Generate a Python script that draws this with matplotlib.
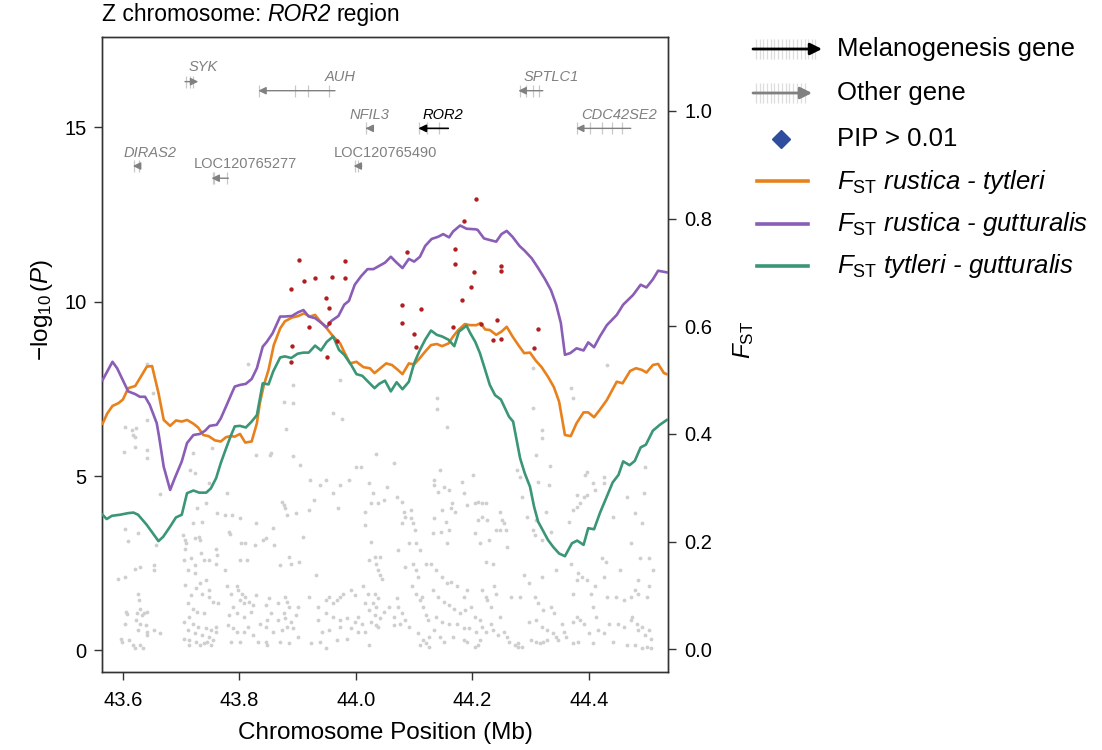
import matplotlib
matplotlib.use('Agg')
import matplotlib.pyplot as plt
from matplotlib.text import Annotation

plt.rcParams['font.family'] = ['Liberation Sans', 'DejaVu Sans']
plt.rcParams['mathtext.fontset'] = 'custom'
plt.rcParams['mathtext.rm'] = 'Liberation Sans'
plt.rcParams['mathtext.it'] = 'Liberation Sans:italic'
plt.rcParams['mathtext.bf'] = 'Liberation Sans:bold'

# ---------------- data ----------------
# F_ST sliding-window curves (position in Mb, F_ST)
purple_x = [43.565, 43.582, 43.590, 43.601, 43.609, 43.621, 43.629, 43.638, 43.646, 43.658, 43.662, 43.670,
            43.681, 43.689, 43.701, 43.710, 43.721, 43.732, 43.741, 43.749, 43.761, 43.768, 43.777, 43.787,
            43.792, 43.801, 43.811, 43.821, 43.830, 43.840, 43.847, 43.857, 43.870, 43.878, 43.890, 43.901,
            43.910, 43.919, 43.930, 43.941, 43.950, 43.958, 43.970, 43.980, 43.988, 43.998, 44.009, 44.020,
            44.030, 44.040, 44.050, 44.060, 44.070, 44.080, 44.091, 44.100, 44.110, 44.119, 44.130, 44.141,
            44.150, 44.160, 44.167, 44.179, 44.190, 44.205, 44.209, 44.220, 44.230, 44.241, 44.250, 44.259,
            44.269, 44.281, 44.290, 44.302, 44.313, 44.325, 44.335, 44.344, 44.352, 44.359, 44.368, 44.379,
            44.391, 44.399, 44.409, 44.419, 44.431, 44.448, 44.459, 44.476, 44.489, 44.499, 44.510, 44.519,
            44.534]
purple_y = [0.500, 0.534, 0.522, 0.497, 0.479, 0.474, 0.469, 0.469, 0.454, 0.420, 0.395, 0.339,
            0.296, 0.318, 0.349, 0.383, 0.398, 0.400, 0.406, 0.415, 0.417, 0.429, 0.451, 0.476,
            0.488, 0.491, 0.493, 0.502, 0.522, 0.562, 0.571, 0.587, 0.618, 0.618, 0.619, 0.626,
            0.630, 0.618, 0.615, 0.606, 0.598, 0.610, 0.619, 0.640, 0.647, 0.677, 0.693, 0.706,
            0.706, 0.712, 0.718, 0.729, 0.718, 0.708, 0.725, 0.720, 0.729, 0.749, 0.762, 0.766,
            0.771, 0.765, 0.776, 0.787, 0.781, 0.780, 0.779, 0.763, 0.760, 0.757, 0.771, 0.777,
            0.766, 0.749, 0.740, 0.726, 0.708, 0.687, 0.667, 0.640, 0.606, 0.547, 0.550, 0.559,
            0.555, 0.570, 0.561, 0.581, 0.602, 0.621, 0.640, 0.658, 0.677, 0.672, 0.687, 0.703,
            0.700]

orange_x = [43.565, 43.573, 43.582, 43.592, 43.600, 43.609, 43.621, 43.630, 43.641, 43.650, 43.661, 43.670,
            43.681, 43.691, 43.701, 43.710, 43.721, 43.729, 43.738, 43.747, 43.758, 43.768, 43.777, 43.785,
            43.792, 43.801, 43.810, 43.821, 43.830, 43.835, 43.842, 43.850, 43.859, 43.870, 43.878, 43.890,
            43.901, 43.911, 43.921, 43.930, 43.938, 43.950, 43.961, 43.973, 43.980, 43.990, 44.001, 44.013,
            44.024, 44.032, 44.041, 44.052, 44.062, 44.072, 44.080, 44.091, 44.100, 44.110, 44.119, 44.129,
            44.139, 44.148, 44.159, 44.167, 44.176, 44.187, 44.196, 44.207, 44.214, 44.222, 44.230, 44.241,
            44.250, 44.259, 44.269, 44.279, 44.289, 44.299, 44.309, 44.319, 44.330, 44.340, 44.349, 44.359,
            44.369, 44.379, 44.391, 44.399, 44.409, 44.419, 44.431, 44.448, 44.458, 44.471, 44.481, 44.491,
            44.499, 44.510, 44.519, 44.529, 44.534]
orange_y = [0.419, 0.438, 0.452, 0.457, 0.464, 0.485, 0.489, 0.505, 0.525, 0.526, 0.476, 0.426,
            0.415, 0.425, 0.423, 0.426, 0.419, 0.412, 0.398, 0.396, 0.388, 0.386, 0.394, 0.396,
            0.395, 0.400, 0.384, 0.386, 0.420, 0.457, 0.491, 0.519, 0.565, 0.596, 0.609, 0.616,
            0.619, 0.624, 0.618, 0.621, 0.610, 0.596, 0.581, 0.568, 0.552, 0.531, 0.534, 0.524,
            0.522, 0.513, 0.521, 0.531, 0.528, 0.519, 0.511, 0.531, 0.529, 0.541, 0.553, 0.565,
            0.567, 0.563, 0.568, 0.581, 0.593, 0.604, 0.602, 0.602, 0.606, 0.594, 0.593, 0.584,
            0.590, 0.599, 0.581, 0.565, 0.550, 0.551, 0.536, 0.524, 0.506, 0.487, 0.460, 0.398,
            0.396, 0.420, 0.440, 0.440, 0.431, 0.445, 0.463, 0.497, 0.494, 0.517, 0.522, 0.519,
            0.514, 0.528, 0.530, 0.513, 0.511]

green_x = [43.565, 43.572, 43.581, 43.595, 43.609, 43.618, 43.626, 43.641, 43.661, 43.669, 43.681, 43.691,
           43.701, 43.710, 43.721, 43.731, 43.743, 43.751, 43.760, 43.768, 43.777, 43.785, 43.792, 43.801,
           43.811, 43.821, 43.830, 43.840, 43.850, 43.858, 43.870, 43.878, 43.889, 43.900, 43.910, 43.919,
           43.930, 43.940, 43.950, 43.961, 43.971, 43.980, 43.992, 44.001, 44.011, 44.021, 44.032, 44.040,
           44.050, 44.060, 44.070, 44.080, 44.091, 44.100, 44.110, 44.119, 44.129, 44.139, 44.148, 44.159,
           44.169, 44.177, 44.190, 44.196, 44.205, 44.213, 44.222, 44.230, 44.239, 44.249, 44.256, 44.263,
           44.270, 44.276, 44.282, 44.290, 44.299, 44.306, 44.313, 44.322, 44.330, 44.339, 44.349, 44.359,
           44.371, 44.380, 44.391, 44.399, 44.409, 44.419, 44.431, 44.441, 44.451, 44.459, 44.470, 44.479,
           44.489, 44.498, 44.510, 44.522, 44.534]
green_y = [0.250, 0.242, 0.248, 0.250, 0.253, 0.254, 0.250, 0.231, 0.201, 0.209, 0.228, 0.245,
           0.250, 0.290, 0.295, 0.291, 0.291, 0.299, 0.318, 0.346, 0.373, 0.396, 0.414, 0.415,
           0.412, 0.423, 0.435, 0.494, 0.492, 0.516, 0.542, 0.544, 0.541, 0.549, 0.551, 0.551,
           0.564, 0.555, 0.571, 0.581, 0.556, 0.547, 0.528, 0.511, 0.508, 0.497, 0.485, 0.493,
           0.499, 0.479, 0.496, 0.483, 0.497, 0.531, 0.556, 0.575, 0.592, 0.584, 0.581, 0.575,
           0.563, 0.590, 0.601, 0.588, 0.571, 0.550, 0.519, 0.491, 0.472, 0.464, 0.448, 0.432,
           0.423, 0.389, 0.355, 0.327, 0.302, 0.265, 0.237, 0.219, 0.203, 0.190, 0.178, 0.173,
           0.197, 0.202, 0.194, 0.225, 0.223, 0.253, 0.284, 0.310, 0.324, 0.349, 0.342, 0.350,
           0.375, 0.380, 0.406, 0.417, 0.426]

# SNPs with highest association (red)
top_pos = [44.206, 44.186, 44.087, 44.170, 44.171, 43.903, 43.982, 43.911, 43.930, 43.959, 43.981, 43.888,
           44.202, 44.250, 44.250, 44.197, 43.948, 43.954, 44.079, 44.111, 44.182, 43.920, 43.954, 44.079,
           44.166, 44.215, 44.243, 44.312, 44.100, 44.103, 43.891, 43.889, 43.950, 43.967, 44.236, 44.250,
           44.306]
top_logp = [12.94, 12.32, 11.43, 11.50, 11.08, 11.19, 11.18, 10.60, 10.68, 10.72, 10.69, 10.36,
            10.86, 11.03, 10.89, 10.43, 10.10, 9.83, 9.91, 9.78, 10.06, 9.28, 9.38, 9.39,
            9.28, 9.36, 9.47, 9.22, 9.06, 8.70, 8.72, 8.27, 8.42, 8.88, 8.90, 8.93,
            8.66]

# background SNPs (grey)
snp_pos = [
 43.642, 43.651, 43.603, 43.616, 43.623, 43.618, 43.620, 43.601, 43.620, 43.642, 43.641, 43.642, 43.664, 43.603,
 43.609, 43.626, 43.657, 43.592, 43.603, 43.620, 43.629, 43.653, 43.654, 43.626, 43.628, 43.629, 43.606, 43.607,
 43.624, 43.632, 43.636, 43.642, 43.623, 43.629, 43.639, 43.626, 43.641, 43.641, 43.604, 43.597, 43.599, 43.611,
 43.617, 43.620, 43.629, 43.634, 43.653, 43.664,
 43.703, 43.706, 43.709, 43.724, 43.730, 43.732, 43.707, 43.720, 43.704, 43.717, 43.734, 43.739, 43.724, 43.748,
 43.760, 43.762, 43.759, 43.711, 43.724, 43.732, 43.742, 43.707, 43.717, 43.726, 43.735, 43.748, 43.748, 43.754,
 43.764, 43.711, 43.720, 43.728, 43.739, 43.714, 43.704, 43.720, 43.729, 43.742, 43.751, 43.760, 43.711, 43.723,
 43.735, 43.748, 43.754, 43.714, 43.726, 43.739, 43.751, 43.714, 43.704, 43.732, 43.745, 43.760, 43.720, 43.715,
 43.724, 43.728, 43.742, 43.735, 43.748, 43.753, 43.762, 43.778,
 43.782, 43.784, 43.776, 43.787, 43.801, 43.803, 43.810, 43.801, 43.813, 43.828, 43.826, 43.776, 43.779, 43.785,
 43.795, 43.798, 43.805, 43.810, 43.801, 43.807, 43.817, 43.823, 43.789, 43.782, 43.795, 43.807, 43.820, 43.829,
 43.780, 43.789, 43.795, 43.807, 43.823, 43.785, 43.801, 43.832, 43.814, 43.835,
 43.840, 43.845, 43.860, 43.858, 43.873, 43.876, 43.879, 43.882, 43.870, 43.885, 43.888, 43.903, 43.898, 43.910,
 43.851, 43.845, 43.854, 43.867, 43.879, 43.882, 43.885, 43.876, 43.879, 43.888, 43.898, 43.901, 43.848, 43.845,
 43.857, 43.867, 43.873, 43.882, 43.892, 43.901, 43.845, 43.848, 43.885, 43.870, 43.815, 43.828, 43.853, 43.854,
 43.876, 43.892, 43.880, 43.892, 43.904, 43.892,
 43.922, 43.938, 43.948, 43.960, 43.973, 43.988, 43.970, 43.932, 43.920, 43.935, 43.948, 43.954, 43.960, 43.967,
 43.973, 43.978, 43.992, 43.998, 43.948, 43.960, 43.973, 43.985, 43.998, 43.935, 43.942, 43.954, 43.973, 43.992,
 44.004, 43.948, 43.923, 43.938, 43.967, 43.985, 43.961, 43.976, 43.973, 43.928, 43.920,
 44.001, 44.009, 44.023, 44.029, 44.026, 44.015, 44.015, 44.026, 44.038, 44.049, 44.054, 44.065, 44.035, 44.023,
 44.032, 44.041, 44.034, 44.038, 44.041, 44.045, 44.013, 44.020, 44.032, 44.038, 44.029, 44.035, 44.016, 44.023,
 44.032, 44.041, 44.048, 44.057, 44.026, 44.034, 44.038, 44.010, 44.004, 44.023, 44.015,
 44.070, 44.079, 44.082, 44.085, 44.095, 44.098, 44.101, 44.095, 44.080, 44.104, 44.110, 44.091, 44.073, 44.098,
 44.104, 44.107, 44.120, 44.085, 44.070, 44.073, 44.079, 44.085, 44.091, 44.066, 44.076, 44.065, 44.096, 44.104,
 44.110, 44.113, 44.116, 44.120, 44.123, 44.107, 44.116, 44.120, 44.110, 44.126, 44.140, 44.140, 44.157, 44.144,
 44.135,
 44.134, 44.141, 44.151, 44.160, 44.165, 44.163, 44.171, 44.185, 44.191, 44.182, 44.148, 44.135, 44.154, 44.160,
 44.157, 44.146, 44.132, 44.129, 44.138, 44.148, 44.157, 44.163, 44.173, 44.185, 44.191, 44.132, 44.141, 44.151,
 44.160, 44.169, 44.179, 44.188, 44.198, 44.138, 44.148, 44.160, 44.173, 44.185, 44.194, 44.135, 44.126, 44.144,
 44.151, 44.166, 44.185, 44.191, 44.204, 44.210,
 44.201, 44.204, 44.210, 44.216, 44.223, 44.216, 44.210, 44.204, 44.213, 44.226, 44.229, 44.224, 44.235, 44.248,
 44.251, 44.248, 44.254, 44.241, 44.257, 44.260, 44.216, 44.223, 44.226, 44.232, 44.238, 44.241, 44.204, 44.213,
 44.216, 44.223, 44.232, 44.235, 44.244, 44.254, 44.260, 44.263, 44.273, 44.279, 44.207, 44.213, 44.248, 44.266,
 44.276, 44.282, 44.313, 44.332, 44.285, 44.294, 44.310, 44.304, 44.307, 44.319, 44.326, 44.335, 44.344, 44.319,
 44.288, 44.297, 44.282, 44.307, 44.313, 44.322, 44.335, 44.341, 44.297, 44.310, 44.319, 44.329, 44.301, 44.310,
 44.316, 44.322, 44.329, 44.279, 44.285, 44.338, 44.344, 44.304, 44.304, 44.319, 44.319, 44.309, 44.334,
 44.354, 44.357, 44.360, 44.372, 44.379, 44.385, 44.391, 44.372, 44.379, 44.382, 44.388, 44.397, 44.404, 44.407,
 44.410, 44.413, 44.369, 44.366, 44.372, 44.379, 44.385, 44.391, 44.397, 44.379, 44.394, 44.397, 44.407, 44.410,
 44.426, 44.426, 44.422, 44.429, 44.426, 44.432, 44.435, 44.416, 44.426, 44.372, 44.382, 44.347, 44.401, 44.407,
 44.369, 44.372, 44.432,
 44.441, 44.466, 44.479, 44.491, 44.494, 44.497, 44.472, 44.488, 44.504, 44.454, 44.485, 44.479, 44.504, 44.447,
 44.460, 44.472, 44.485, 44.500, 44.450, 44.460, 44.472, 44.482, 44.491, 44.504, 44.497, 44.507, 44.485, 44.441,
 44.466, 44.479, 44.491, 44.500, 44.507, 44.475, 44.510]
snp_logp = [
 8.20, 7.37, 6.41, 6.32, 6.37, 6.18, 6.13, 5.70, 5.82, 5.75, 5.51, 6.61, 4.48, 3.47,
 3.14, 3.36, 3.02, 2.06, 2.09, 2.32, 2.38, 2.45, 2.30, 1.63, 1.44, 1.20, 1.11, 1.04,
 1.06, 1.01, 1.08, 1.11, 0.87, 0.77, 0.73, 0.58, 0.53, 0.44, 0.77, 0.34, 0.25, 0.30,
 0.15, 0.06, 0.15, 0.06, 0.58, 0.49,
 3.31, 3.16, 3.07, 3.21, 3.26, 3.16, 2.92, 3.64, 2.59, 2.64, 2.78, 2.59, 2.45, 2.59,
 2.92, 2.73, 2.49, 2.30, 2.21, 1.92, 2.02, 1.87, 1.59, 1.78, 1.63, 1.73, 1.54, 1.40,
 1.35, 1.35, 1.20, 1.11, 1.06, 0.96, 0.82, 0.77, 0.68, 0.63, 0.58, 0.53, 0.58, 0.49,
 0.44, 0.39, 0.30, 0.30, 0.25, 0.20, 0.15, 0.15, 0.34, 0.15, 0.25, 0.68, 5.65, 5.17,
 5.10, 4.07, 4.22, 3.69, 4.79, 5.79, 3.93, 4.52,
 3.40, 3.34, 3.88, 3.88, 3.79, 3.07, 3.09, 2.59, 2.59, 3.64, 3.02, 2.30, 1.85, 1.63,
 1.85, 1.73, 1.63, 1.54, 1.44, 1.35, 1.40, 1.30, 1.25, 1.01, 1.06, 0.96, 1.11, 1.59,
 0.73, 0.63, 0.53, 0.53, 0.44, 0.25, 0.25, 0.25, 0.68, 0.77,
 3.16, 3.21, 3.02, 3.50, 4.26, 4.17, 4.07, 3.88, 2.45, 2.69, 2.49, 2.54, 3.93, 3.26,
 1.49, 1.30, 1.06, 1.35, 1.54, 1.40, 1.25, 1.06, 0.92, 0.82, 1.01, 1.25, 0.87, 0.68,
 0.53, 0.87, 0.58, 0.68, 0.63, 0.39, 0.25, 0.15, 0.20, 0.25, 8.20, 5.60, 5.60, 5.67,
 7.13, 7.08, 6.34, 5.57, 5.32, 7.61,
 4.89, 4.74, 4.89, 4.50, 4.74, 4.89, 4.07, 2.16, 1.54, 1.25, 1.44, 1.54, 1.35, 1.44,
 1.54, 1.63, 1.73, 1.59, 1.06, 0.96, 0.87, 0.92, 0.82, 0.87, 0.53, 0.58, 0.68, 0.63,
 0.53, 0.06, 0.20, 0.25, 0.30, 0.34, 6.80, 6.63, 7.75, 4.31, 4.02,
 5.27, 5.27, 4.79, 4.50, 4.22, 3.98, 3.59, 3.12, 4.22, 4.31, 4.69, 5.36, 5.63, 2.59,
 2.69, 2.69, 2.49, 2.30, 2.16, 2.06, 1.85, 1.63, 1.63, 1.49, 1.35, 1.25, 1.35, 1.16,
 1.01, 0.92, 1.11, 1.25, 0.82, 0.73, 0.68, 0.77, 0.96, 0.15, 0.53,
 4.41, 4.26, 3.98, 3.83, 3.79, 3.64, 3.45, 4.02, 3.64, 3.07, 2.88, 3.07, 2.88, 2.49,
 2.30, 2.11, 2.49, 2.40, 1.49, 1.25, 1.06, 0.87, 0.68, 0.96, 0.77, 0.73, 1.85, 1.63,
 1.44, 1.54, 1.25, 1.01, 0.87, 0.49, 0.30, 0.20, 0.15, 0.10, 7.23, 6.91, 6.40, 5.17,
 4.89,
 4.74, 4.55, 4.69, 4.60, 4.22, 4.07, 3.98, 4.50, 4.17, 4.84, 4.02, 3.79, 3.69, 3.45,
 3.07, 3.40, 3.36, 2.49, 2.30, 2.11, 1.92, 1.97, 1.85, 1.54, 1.73, 1.73, 1.54, 1.40,
 1.30, 1.20, 1.06, 1.16, 1.25, 0.96, 0.82, 0.77, 0.77, 0.63, 0.63, 0.58, 0.39, 0.39,
 0.25, 0.39, 0.30, 0.25, 0.10, 0.15,
 5.03, 4.22, 4.26, 4.22, 4.23, 3.83, 3.74, 3.36, 3.07, 3.74, 3.16, 2.54, 2.49, 3.98,
 3.74, 3.45, 3.64, 3.45, 3.45, 2.97, 1.73, 1.54, 1.44, 1.25, 1.85, 1.63, 0.96, 0.87,
 0.68, 0.53, 0.77, 0.58, 0.44, 0.53, 0.39, 0.25, 0.15, 0.10, 0.53, 0.30, 0.96, 1.54,
 5.17, 4.98, 4.84, 4.74, 4.41, 3.83, 3.74, 3.45, 3.31, 3.16, 3.98, 3.40, 2.30, 2.11,
 2.16, 1.92, 1.54, 1.54, 1.35, 1.16, 1.25, 1.06, 0.82, 0.87, 0.68, 0.58, 0.30, 0.25,
 0.20, 0.25, 0.30, 0.20, 0.10, 0.49, 0.39, 8.09, 6.94, 6.32, 6.08, 5.60, 5.29,
 0.77, 0.53, 0.39, 0.82, 0.96, 0.87, 0.77, 1.63, 2.02, 2.21, 2.11, 2.02, 1.63, 1.25,
 1.85, 0.96, 2.49, 3.69, 4.02, 4.12, 4.22, 4.41, 4.45, 4.45, 5.03, 5.12, 4.79, 4.60,
 4.79, 4.98, 2.64, 2.54, 2.11, 1.54, 0.77, 0.58, 0.49, 0.20, 0.25, 0.30, 0.49, 0.20,
 7.52, 7.23, 8.18,
 3.83, 4.41, 3.93, 3.64, 4.50, 5.27, 3.07, 2.64, 2.64, 2.30, 2.02, 1.73, 1.85, 1.54,
 1.44, 1.54, 1.63, 1.54, 0.77, 0.68, 0.87, 0.77, 0.68, 0.58, 0.44, 0.34, 0.58, 0.25,
 0.15, 0.15, 0.06, 0.10, 0.06, 0.96, 2.30]

# genes
gene_names = ['SYK', 'AUH', 'NFIL3', 'ROR2', 'SPTLC1', 'CDC42SE2', 'DIRAS2', 'LOC120765277', 'LOC120765490']
gene_start = [43.7065, 43.8324, 44.0165, 44.1072, 44.2790, 44.3780, 43.6170, 43.7520, 43.9960]
gene_end = [43.7294, 43.9641, 44.0210, 44.1587, 44.3210, 44.4720, 43.6300, 43.7810, 44.0100]
gene_strand = [1, -1, -1, -1, -1, -1, -1, -1, -1]
gene_melano = [False, False, False, True, False, False, False, False, False]
gene_exons = [[43.709, 43.715, 43.720], [43.833, 43.895, 43.918, 43.954], [44.018],
              [44.109, 44.122, 44.143], [44.281, 44.293, 44.305, 44.315],
              [44.380, 44.402, 44.422, 44.439, 44.457], [43.619, 43.628], [43.754, 43.756, 43.779],
              [43.998, 44.004]]

# ---------------- style ----------------
C_OR = '#E8811C'
C_PU = '#8A5DB6'
C_GR = '#3A9675'
C_RED = '#B01E22'
C_GREY = '#CFCFCF'
C_GENE = '#808080'

W, H = 1102, 750
fig = plt.figure(figsize=(W / 100, H / 100), dpi=100)
ax = fig.add_axes([102 / W, 78 / H, 566 / W, 635 / H])
ax.set_xlim(43.564, 44.536)
ax.set_ylim(-0.62, 17.59)

ax.scatter(snp_pos, snp_logp, s=7.5, color=C_GREY, linewidths=0, zorder=1)

# gene track (row heights and label placement)
gene_row = [16.31, 16.05, 14.97, 14.97, 16.05, 14.97, 13.89, 13.54, 13.89]
label_x = [43.738, 43.9727, 44.024, 44.149, 44.336, 44.452, 43.646, 43.810, 44.051]
label_y = [16.72, 16.44, 15.36, 15.36, 16.44, 15.36, 14.27, 13.94, 14.27]
for i, name in enumerate(gene_names):
    col = 'black' if gene_melano[i] else C_GENE
    y = gene_row[i]
    ax.vlines(gene_exons[i], y - 0.17, y + 0.17, color='#c8c8c8', lw=0.9, zorder=2)
    if gene_strand[i] > 0:
        tail, head = gene_start[i], gene_end[i]
    else:
        tail, head = gene_end[i], gene_start[i]
    ax.annotate('', xy=(head, y), xytext=(tail, y),
                arrowprops=dict(arrowstyle='-|>,head_length=0.45,head_width=0.22',
                                color=col, lw=1.2 if gene_melano[i] else 1.0,
                                shrinkA=0, shrinkB=0, mutation_scale=10), zorder=3)
    italic = not name.startswith('LOC')
    ax.text(label_x[i], label_y[i], name, ha='center', va='center', fontsize=10.5,
            color=col, style='italic' if italic else 'normal', zorder=3)

ax.set_xticks([43.6, 43.8, 44.0, 44.2, 44.4])
ax.set_xticklabels(['43.6', '43.8', '44.0', '44.2', '44.4'])
ax.set_yticks([0, 5, 10, 15])
ax.tick_params(axis='both', direction='out', length=6, width=1, labelsize=14.5, color='#333333')
ax.tick_params(axis='x', pad=8)
ax.tick_params(axis='y', pad=5)

ax2 = ax.twinx()
ax2.set_ylim(-0.042, 1.137)
ax2.plot(orange_x, orange_y, color=C_OR, lw=1.9, zorder=3)
ax2.plot(purple_x, purple_y, color=C_PU, lw=1.9, zorder=3)
ax2.plot(green_x, green_y, color=C_GR, lw=1.9, zorder=3)
ax2.set_yticks([0.0, 0.2, 0.4, 0.6, 0.8, 1.0])
ax2.set_yticklabels(['0.0', '0.2', '0.4', '0.6', '0.8', '1.0'])
ax2.tick_params(axis='y', direction='out', length=6, width=1, labelsize=14.5, pad=6, color='#333333')

ax3 = ax.twinx()
ax3.set_ylim(ax.get_ylim())
ax3.axis('off')
ax3.scatter(top_pos, top_logp, s=10, color=C_RED, linewidths=0, zorder=4)

for a in (ax, ax2):
    for sp in a.spines.values():
        sp.set_color('#333333')
        sp.set_linewidth(1.0)

# title: plain + italic gene name + plain
t1 = fig.text(102 / W, 1 - 26 / H, 'Z chromosome:', ha='left', va='bottom', fontsize=16.5)
a2 = fig.add_artist(Annotation('ROR2', xy=(1, 0), xycoords=t1, xytext=(6, 0),
                               textcoords='offset pixels', ha='left', va='bottom',
                               fontsize=16.5, style='italic'))
fig.add_artist(Annotation('region', xy=(1, 0), xycoords=a2, xytext=(6, 0),
                          textcoords='offset pixels', ha='left', va='bottom', fontsize=16.5))

fig.text(385 / W, 1 - 733 / H, 'Chromosome Position (Mb)', ha='center', va='center', fontsize=17.5)
fig.text(42 / W, 1 - 310 / H, r'$-\log_{10}(\mathit{P})$', ha='center', va='center', rotation=90, fontsize=17.5)
fig.text(744 / W, 1 - 340 / H, r'$F_{\mathrm{ST}}$', ha='center', va='center', rotation=90, fontsize=17.5)

# legend (drawn in a pixel-space overlay)
lax = fig.add_axes([0, 0, 1, 1])
lax.set_xlim(0, W)
lax.set_ylim(H, 0)
lax.axis('off')
bar_off = [3, 7, 10, 14, 18, 21, 25, 29, 33, 36, 40, 44, 48, 52, 55, 59, 62]
lax.vlines([753 + b for b in bar_off], 39, 59, color='#dddddd', lw=0.9)
lax.vlines([753 + b for b in bar_off[:14]], 83, 103, color='#dddddd', lw=0.9)
lax.annotate('', xy=(822, 49), xytext=(753, 49),
             arrowprops=dict(arrowstyle='-|>,head_length=0.5,head_width=0.25', color='black', lw=2,
                             shrinkA=0, shrinkB=0, mutation_scale=14))
lax.annotate('', xy=(812, 93), xytext=(753, 93),
             arrowprops=dict(arrowstyle='-|>,head_length=0.5,head_width=0.25', color=C_GENE, lw=2,
                             shrinkA=0, shrinkB=0, mutation_scale=14))
lax.plot([781], [139], marker='D', ms=9.5, color='#2F4D9E', mec='#2F4D9E')
lax.plot([757, 808], [181, 181], color=C_OR, lw=2.6)
lax.plot([757, 808], [224, 224], color=C_PU, lw=2.6)
lax.plot([757, 808], [266, 266], color=C_GR, lw=2.6)
lfs = 18.5
lax.text(837, 49, 'Melanogenesis gene', fontsize=lfs, va='center', ha='left')
lax.text(837, 93, 'Other gene', fontsize=lfs, va='center', ha='left')
lax.text(837, 139, 'PIP > 0.01', fontsize=lfs, va='center', ha='left')
lax.text(837, 182, r'$F_{\mathrm{ST}}$ rustica - tytleri', fontsize=lfs, va='center', ha='left', style='italic')
lax.text(837, 224, r'$F_{\mathrm{ST}}$ rustica - gutturalis', fontsize=lfs, va='center', ha='left', style='italic')
lax.text(837, 266, r'$F_{\mathrm{ST}}$ tytleri - gutturalis', fontsize=lfs, va='center', ha='left', style='italic')

fig.savefig('out.png', dpi=100)
